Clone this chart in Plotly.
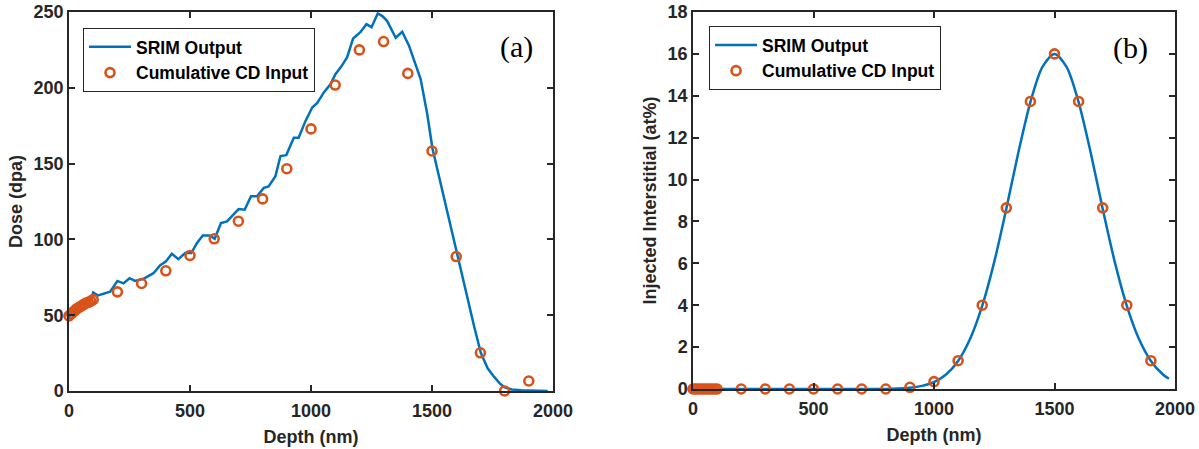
import plotly.graph_objects as go

# ---------------- data ----------------
# (a) SRIM dose profile
srim_depth_a = [0, 25, 50, 75, 90, 100, 120, 170, 200, 225, 250, 273, 308, 349, 377, 400,
                425, 452, 480, 505, 529, 553, 581, 602, 628, 653, 701, 726, 752, 777, 805,
                825, 853, 874, 898, 929, 949, 977, 1005, 1026, 1053, 1081, 1101, 1125, 1149,
                1174, 1204, 1229, 1250, 1276, 1295, 1315, 1350, 1377, 1405, 1453, 1480, 1502,
                1530, 1555, 1578, 1605, 1625, 1647, 1675, 1702, 1730, 1757, 1780, 1798, 1830,
                1868, 1920, 1978]
srim_dose_a = [49, 53, 57, 59, 60, 65, 63, 65.5, 72.6, 71, 74.4, 72.6, 74, 77.7, 83, 85.4,
               90.5, 87, 91, 91, 97.6, 102.6, 102.6, 100.4, 110.8, 111.9, 120, 119.6, 128.5,
               128.5, 134, 135, 141.7, 155, 155.6, 167, 167, 178, 187, 190, 197, 202.5, 209,
               214, 220, 232.5, 236.7, 242, 240, 249, 247.3, 244, 233, 237, 227.8, 205.8, 183,
               160, 141, 124, 108, 89, 75, 60, 42, 25, 15, 9.3, 5, 2.6, 1, 0.5, 0.1, 0]

cd_depth = [0, 10, 20, 30, 40, 50, 60, 70, 80, 90, 100,
            200, 300, 400, 500, 600, 700, 800, 900, 1000,
            1100, 1200, 1300, 1400, 1500, 1600, 1700, 1800, 1900]
cd_dose_a = [49.5, 51, 52.5, 54, 55, 56, 57, 58, 58.5, 59.3, 60.3,
             65.4, 70.9, 79.3, 89.4, 100.4, 112, 126.7, 146.6, 172.9,
             201.8, 225, 230.5, 209.5, 158.3, 88.7, 25.2, 0, 6.6]

# (b) injected interstitial profile
srim_depth_b = [0, 100, 200, 300, 400, 500, 600, 700, 800, 850, 900, 950, 1000, 1050, 1100,
                1150, 1200, 1250, 1300, 1350, 1400, 1450, 1500, 1550, 1600, 1650, 1700,
                1750, 1800, 1850, 1900, 1950, 1975]
srim_inter_b = [0, 0, 0, 0, 0, 0, 0, 0, 0, 0.02, 0.06, 0.15, 0.33, 0.69, 1.34,
                2.40, 3.97, 6.07, 8.6, 11.29, 13.7, 15.38, 16.0, 15.38, 13.7, 11.29, 8.6,
                6.07, 3.97, 2.40, 1.34, 0.69, 0.49]
cd_inter_b = [0, 0, 0, 0, 0, 0, 0, 0, 0, 0, 0,
              0, 0, 0, 0, 0, 0, 0, 0.08, 0.35,
              1.35, 4.0, 8.65, 13.73, 16.0, 13.73, 8.65, 4.0, 1.35]

x_ticks = [0, 500, 1000, 1500, 2000]
ya_ticks = [0, 50, 100, 150, 200, 250]
yb_ticks = [0, 2, 4, 6, 8, 10, 12, 14, 16, 18]

BLUE = "#0072BD"
ORANGE = "#D95319"
AX = "#262626"
FONT = "Liberation Sans, Arial, sans-serif"

fig = go.Figure()

marker_style = dict(symbol="circle-open", size=9, color=ORANGE,
                    line=dict(width=2.6, color=ORANGE))

fig.add_trace(go.Scatter(x=srim_depth_a, y=srim_dose_a, mode="lines", name="SRIM Output",
                         line=dict(color=BLUE, width=2.5), xaxis="x", yaxis="y",
                         legend="legend"))
fig.add_trace(go.Scatter(x=cd_depth, y=cd_dose_a, mode="markers", name="Cumulative CD Input",
                         marker=marker_style, cliponaxis=False, xaxis="x", yaxis="y",
                         legend="legend"))
fig.add_trace(go.Scatter(x=srim_depth_b, y=srim_inter_b, mode="lines", name="SRIM Output",
                         line=dict(color=BLUE, width=2.5, shape="spline", smoothing=0.8),
                         xaxis="x2", yaxis="y2", legend="legend2"))
fig.add_trace(go.Scatter(x=cd_depth, y=cd_inter_b, mode="markers", name="Cumulative CD Input",
                         marker=marker_style, cliponaxis=False, xaxis="x2", yaxis="y2",
                         legend="legend2"))

axis_common = dict(showline=True, linecolor=AX, linewidth=1.5, mirror="ticks",
                   ticks="inside", ticklen=6, tickwidth=1.5, tickcolor=AX,
                   showgrid=False, zeroline=False, automargin=False,
                   tickfont=dict(family=FONT, size=18, color=AX, weight="bold"))
title_font = dict(family=FONT, size=18, color=AX, weight="bold")
legend_font = dict(family=FONT, size=17.5, color="black", weight="bold")

fig.update_layout(
    width=1199, height=449,
    margin=dict(l=69, r=24, t=12, b=58, autoexpand=False),
    paper_bgcolor="white", plot_bgcolor="white",
    showlegend=True,
    xaxis=dict(domain=[0, 0.4376], range=[0, 2000], tickvals=x_ticks, anchor="y",
               ticklabelstandoff=3,
               title=dict(text="Depth (nm)", font=title_font, standoff=10), **axis_common),
    yaxis=dict(domain=[0, 1], range=[0, 250], tickvals=ya_ticks, anchor="x",
               title=dict(text="Dose (dpa)", font=title_font, standoff=6), **axis_common),
    xaxis2=dict(domain=[0.5642, 1], range=[0, 2000], tickvals=x_ticks, anchor="y2",
                ticklabelstandoff=3,
                title=dict(text="Depth (nm)", font=title_font, standoff=10), **axis_common),
    yaxis2=dict(domain=[0.0053, 1], range=[0, 18], tickvals=yb_ticks, anchor="x2",
                title=dict(text="Injected Interstitial (at%)", font=title_font, standoff=6),
                **axis_common),
    legend=dict(x=0.01266, y=0.9578, xanchor="left", yanchor="top",
                bgcolor="white", bordercolor=AX, borderwidth=1, font=legend_font,
                tracegroupgap=0, itemwidth=42),
    legend2=dict(x=0.5787, y=0.963, xanchor="left", yanchor="top",
                 bgcolor="white", bordercolor=AX, borderwidth=1, font=legend_font,
                 tracegroupgap=0, itemwidth=42),
    annotations=[
        dict(text="(a)", x=0.405, y=0.9077, xref="paper", yref="paper",
             xanchor="center", yanchor="middle", showarrow=False,
             font=dict(family="Liberation Serif, Times New Roman, serif", size=30, color="black")),
        dict(text="(b)", x=0.960, y=0.905, xref="paper", yref="paper",
             xanchor="center", yanchor="middle", showarrow=False,
             font=dict(family="Liberation Serif, Times New Roman, serif", size=30, color="black")),
    ],
)

fig.write_html("out.html")
